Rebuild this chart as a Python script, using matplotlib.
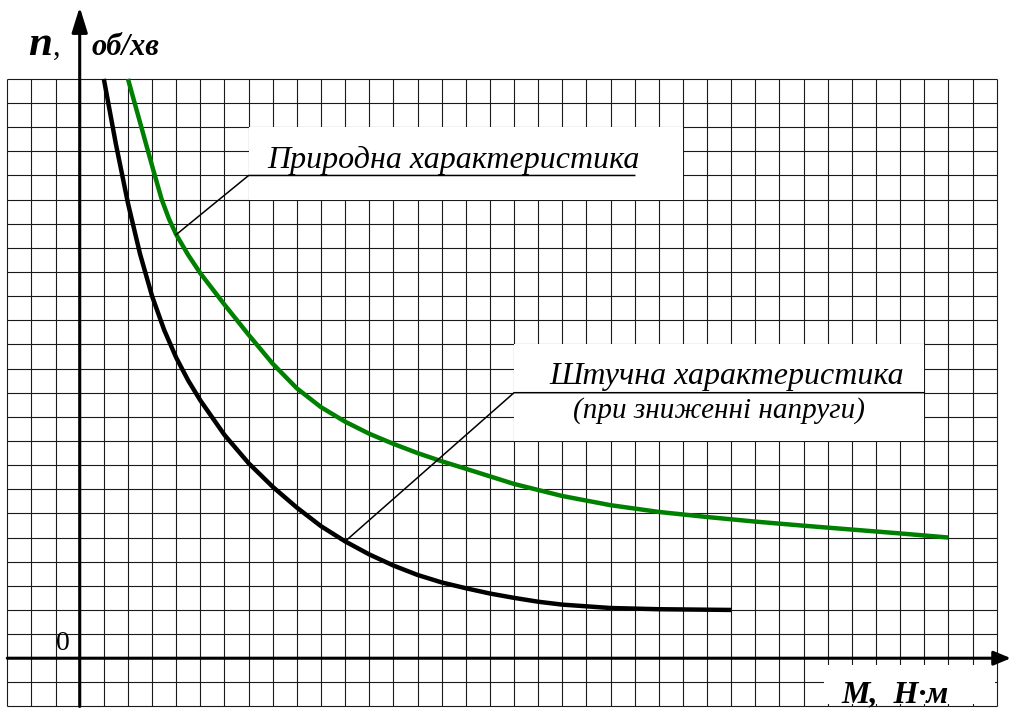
import matplotlib.pyplot as plt
from matplotlib.patches import Rectangle

plt.rcParams['font.family'] = ['Liberation Serif', 'DejaVu Serif']

# grid: one cell = one unit
grid_x = list(range(-3, 39))
grid_y = list(range(-2, 25))

# natural characteristic (green)
nat_m = [2.0, 2.5, 3.0, 3.4, 3.7, 4.0, 4.5, 5.0, 6.0, 7.0, 8.0, 9.0, 10.0,
         11.0, 12.0, 13.0, 14.0, 15.0, 16.0, 18.0, 20.0, 22.0, 24.0, 26.0,
         28.0, 30.0, 32.0, 34.0, 36.0]
nat_n = [24.0, 22.2, 20.4, 19.0, 18.2, 17.55, 16.7, 15.95, 14.65, 13.4,
         12.2, 11.18, 10.4, 9.8, 9.3, 8.88, 8.5, 8.16, 7.85, 7.22, 6.72,
         6.34, 6.06, 5.85, 5.66, 5.49, 5.33, 5.17, 5.0]

# artificial characteristic at reduced voltage (black)
art_m = [1.0, 1.5, 2.0, 2.5, 3.0, 3.5, 4.0, 4.5, 5.0, 6.0, 7.0, 8.0, 9.0,
         10.0, 11.0, 12.0, 13.0, 14.0, 15.0, 16.0, 17.0, 18.0, 19.0, 20.0,
         22.0, 24.0, 27.0]
art_n = [24.0, 21.3, 18.85, 16.75, 15.0, 13.6, 12.45, 11.5, 10.68, 9.25,
         8.08, 7.1, 6.24, 5.47, 4.84, 4.3, 3.84, 3.45, 3.14, 2.9, 2.68, 2.5,
         2.34, 2.22, 2.08, 2.03, 2.0]

fig = plt.figure(figsize=(10.11, 7.13), dpi=100)
ax = fig.add_axes([0, 0, 1, 1])
ax.set_xlim(-3.303, 38.595)
ax.set_ylim(-2.27, 27.27)
ax.axis('off')

# graph paper
ax.vlines(grid_x, grid_y[0], grid_y[-1], color='#1a1a1a', lw=0.8, zorder=1)
ax.hlines(grid_y, grid_x[0], grid_x[-1], color='#1a1a1a', lw=0.8, zorder=1)

# white label boxes
for (x0, y0, w, h) in [(7.0, 19.0, 18.0, 3.0), (18.0, 9.0, 17.0, 4.0),
                       (30.85, -1.9, 7.08, 1.6)]:
    ax.add_patch(Rectangle((x0, y0), w, h, facecolor='white',
                           edgecolor='none', zorder=2))

# axes with arrows
arr_y = dict(arrowstyle='-|>,head_length=0.9,head_width=0.28', lw=2.2,
             color='k', mutation_scale=17, shrinkA=0, shrinkB=0)
arr_x = dict(arrowstyle='-|>,head_length=0.6,head_width=0.25', lw=2.2,
             color='k', mutation_scale=17, shrinkA=0, shrinkB=0)
ax.annotate('', xy=(0, 26.98), xytext=(0, -2), arrowprops=arr_y, zorder=3)
ax.annotate('', xy=(38.59, 0), xytext=(-3, 0), arrowprops=arr_x, zorder=3)

# curves
ax.plot(nat_m, nat_n, color='#008000', lw=3.2, solid_capstyle='butt',
        solid_joinstyle='round', zorder=4)
ax.plot(art_m, art_n, color='black', lw=3.2, solid_capstyle='butt',
        solid_joinstyle='round', zorder=4)

# leaders and underlines
ax.plot([4.0, 7.0, 23.0], [17.55, 20.0, 20.0], color='black', lw=1.1, zorder=5)
ax.plot([11.0, 18.0, 35.0], [4.84, 11.0, 11.0], color='black', lw=1.1, zorder=5)

ax.text(15.47, 20.32, 'Природна характеристика', fontsize=23, style='italic',
        ha='center', va='baseline', zorder=6)
ax.text(26.8, 11.38, 'Штучна характеристика', fontsize=23, style='italic',
        ha='center', va='baseline', zorder=6)
ax.text(26.5, 9.95, '(при зниженні напруги)', fontsize=21, style='italic',
        ha='center', va='baseline', zorder=6)

# axis labels
ax.text(-2.14, 25.0, 'n', fontsize=31, style='italic', weight='bold',
        va='baseline', zorder=6)
ax.text(-1.1, 25.0, ',', fontsize=22, va='baseline', zorder=6)
ax.text(0.5, 25.0, 'об/хв', fontsize=22, style='italic', weight='bold',
        va='baseline', zorder=6)
ax.text(-0.69, 0.34, '0', fontsize=20, ha='center', va='baseline', zorder=6)
ax.text(33.8, -1.85, 'М,  Н·м', fontsize=23, style='italic', weight='bold',
        ha='center', va='baseline', zorder=6)

fig.savefig('out.png', dpi=100)
